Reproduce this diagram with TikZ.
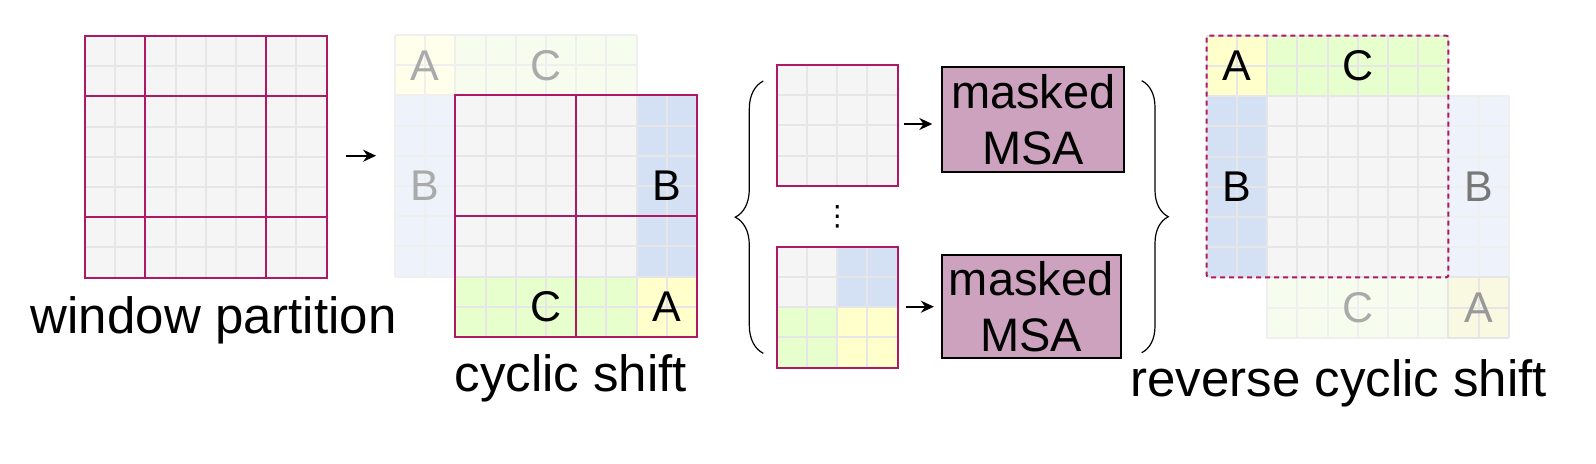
\documentclass[tikz,border=0pt]{standalone}
\usepackage{fontspec}
\setmainfont{Liberation Sans}
\newfontfamily\symfont{DejaVu Sans}
\usetikzlibrary{arrows.meta,decorations.pathreplacing}

\definecolor{cellgray}{HTML}{F5F5F5}
\definecolor{cellline}{HTML}{E6E6E6}
\definecolor{cellblue}{HTML}{D4E1F5}
\definecolor{cellgreen}{HTML}{E6FFCC}
\definecolor{cellyellow}{HTML}{FFFFCC}
\definecolor{fadeblue}{HTML}{EEF2FA}
\definecolor{fadegreen}{HTML}{F6FDEE}
\definecolor{fadeyellow}{HTML}{FFFFEC}
\definecolor{fadeline}{HTML}{EFEFEF}
\definecolor{winred}{HTML}{AD1A63}
\definecolor{msafill}{HTML}{CDA2BE}
\definecolor{fadetext}{HTML}{AAAAAA}

\def\cs{30.2}
% grid of cells: x, y, columns, rows, line style
\newcommand{\cellgrid}[5]{%
  \foreach \i in {0,...,#3} \draw[#5] ({#1+\i*\cs},#2) -- ++(0,{#4*\cs});
  \foreach \j in {0,...,#4} \draw[#5] (#1,{#2+\j*\cs}) -- ++({#3*\cs},0);
}

\begin{document}
\begin{tikzpicture}[x=0.5pt,y=-0.5pt,>=Stealth,
    thinline/.style={draw=cellline,line width=1pt},
    faintline/.style={draw=fadeline,line width=1pt},
    winline/.style={draw=winred,line width=1pt},
    arr/.style={->,line width=1pt,-{Stealth[length=6.5pt,width=6pt]}},
    curly/.style={draw,line width=0.6pt,decorate},
    cellletter/.style={font=\fontsize{21.5}{21.5}\selectfont,inner sep=0pt},
    fadeletter/.style={cellletter,text=fadetext},
    lbltext/.style={font=\fontsize{25.5}{30}\selectfont,inner sep=0pt,anchor=base},
    msabox/.style={draw=black,line width=1pt,fill=msafill,inner sep=0pt,align=center,
      font=\fontsize{23.5}{28}\selectfont}]
  \useasboundingbox (0,0) rectangle (1596,463);

  % window partition
  \fill[cellgray] (84.9,36) rectangle ++(241.6,241.6);
  \cellgrid{84.9}{36}{8}{8}{thinline}
  \draw[winline] (84.9,36) rectangle ++(241.6,241.6);
  \draw[winline] (145.3,36) -- ++(0,241.6);
  \draw[winline] (266.1,36) -- ++(0,241.6);
  \draw[winline] (84.9,96.4) -- ++(241.6,0);
  \draw[winline] (84.9,217.2) -- ++(241.6,0);
  \node[lbltext] (lwin) at (213.7,333.3) {window partition};

  \coordinate (g1e) at (326.5,155.7);
  \coordinate (g2w) at (394.9,155.7);
  \draw[arr,shorten <=9.8pt,shorten >=9.4pt] (g1e) -- (g2w);

  % cyclic shift
  \fill[fadeyellow] (394.9,35) rectangle ++(60.4,60.4);
  \fill[fadegreen] (455.3,35) rectangle ++(181.2,60.4);
  \fill[fadeblue] (394.9,95.4) rectangle ++(60.4,181.2);
  \cellgrid{394.9}{35}{8}{2}{faintline}
  \cellgrid{394.9}{95.4}{2}{6}{faintline}
  \fill[cellgray] (455.3,95.4) rectangle ++(241.6,241.6);
  \fill[cellblue] (636.5,95.4) rectangle ++(60.4,181.2);
  \fill[cellgreen] (455.3,276.6) rectangle ++(181.2,60.4);
  \fill[cellyellow] (636.5,276.6) rectangle ++(60.4,60.4);
  \cellgrid{455.3}{95.4}{8}{8}{thinline}
  \draw[winline] (455.3,95.4) rectangle ++(241.6,241.6);
  \draw[winline] (576.1,95.4) -- ++(0,241.6);
  \draw[winline] (455.3,216.2) -- ++(241.6,0);
  \node[fadeletter] (a1) at (425.1,65.2) {A};
  \node[fadeletter] (c1) at (545.9,65.2) {C};
  \node[fadeletter] (b1) at (425.1,186) {B};
  \node[cellletter] (b2) at (666.7,186) {B};
  \node[cellletter] (c2) at (545.9,306.8) {C};
  \node[cellletter] (a2) at (666.7,306.8) {A};
  \node[lbltext] (lcyc) at (570.8,391.7) {cyclic shift};

  % masked MSA per window
  \coordinate (bl1) at (763.3,353.3);
  \coordinate (bl2) at (763.3,81);
  \draw[curly,decoration={brace,amplitude=14pt}] (bl1) -- (bl2);

  \fill[cellgray] (776.7,65) rectangle ++(120.8,120.8);
  \cellgrid{776.7}{65}{4}{4}{thinline}
  \draw[winline] (776.7,65) rectangle ++(120.8,120.8);

  \node (dots) [inner sep=0pt,font=\symfont\fontsize{14}{14}\selectfont] at (837.3,217) {⋮};

  \fill[cellgray] (776.7,246.7) rectangle ++(120.8,120.8);
  \fill[cellblue] (837.1,246.7) rectangle ++(60.4,60.4);
  \fill[cellgreen] (776.7,307.1) rectangle ++(60.4,60.4);
  \fill[cellyellow] (837.1,307.1) rectangle ++(60.4,60.4);
  \cellgrid{776.7}{246.7}{4}{4}{thinline}
  \draw[winline] (776.7,246.7) rectangle ++(120.8,120.8);

  \node[msabox,minimum width=91pt,minimum height=52.6pt] (msa1) at (1033.3,119.4) {masked\\MSA};
  \node[msabox,minimum width=89.5pt,minimum height=51.6pt] (msa2) at (1031.2,306.7) {masked\\MSA};

  \coordinate (t1e) at (897.5,124);
  \coordinate (t2e) at (897.5,306.7);
  \draw[arr,shorten <=3.4pt,shorten >=4.5pt] (t1e) -- (t1e -| msa1.west);
  \draw[arr,shorten <=4.1pt,shorten >=3.4pt] (t2e) -- (t2e -| msa2.west);

  \coordinate (br1) at (1141.7,80.7);
  \coordinate (br2) at (1141.7,352.7);
  \draw[curly,decoration={brace,amplitude=13.3pt}] (br1) -- (br2);

  % reverse cyclic shift
  \fill[fadeblue] (1448.3,96.1) rectangle ++(60.4,181.2);
  \fill[fadegreen] (1267.1,277.3) rectangle ++(181.2,60.4);
  \fill[cellyellow!45!cellgray] (1448.3,277.3) rectangle ++(60.4,60.4);
  \cellgrid{1448.3}{96.1}{2}{6}{faintline}
  \cellgrid{1267.1}{277.3}{6}{2}{faintline}
  \cellgrid{1448.3}{277.3}{2}{2}{thinline}
  \fill[cellgray] (1206.7,35.7) rectangle ++(241.6,241.6);
  \fill[cellyellow] (1206.7,35.7) rectangle ++(60.4,60.4);
  \fill[cellgreen] (1267.1,35.7) rectangle ++(181.2,60.4);
  \fill[cellblue] (1206.7,96.1) rectangle ++(60.4,181.2);
  \cellgrid{1206.7}{35.7}{8}{8}{thinline}
  \draw[winline,dash pattern=on 2.5pt off 2pt,rounded corners=1pt] (1206.7,35.7) rectangle ++(241.6,241.6);
  \node[cellletter] (a3) at (1237,65.9) {A};
  \node[cellletter] (c3) at (1357.7,65.9) {C};
  \node[cellletter] (b3) at (1237,187) {B};
  \node[cellletter,text=black!53] (b4) at (1478.5,187) {B};
  \node[fadeletter] (c4) at (1357.7,307.5) {C};
  \node[fadeletter,text=black!40] (a4) at (1478.5,307.5) {A};
  \node[lbltext] (lrev) at (1338.7,396.7) {reverse cyclic shift};
\end{tikzpicture}
\end{document}
